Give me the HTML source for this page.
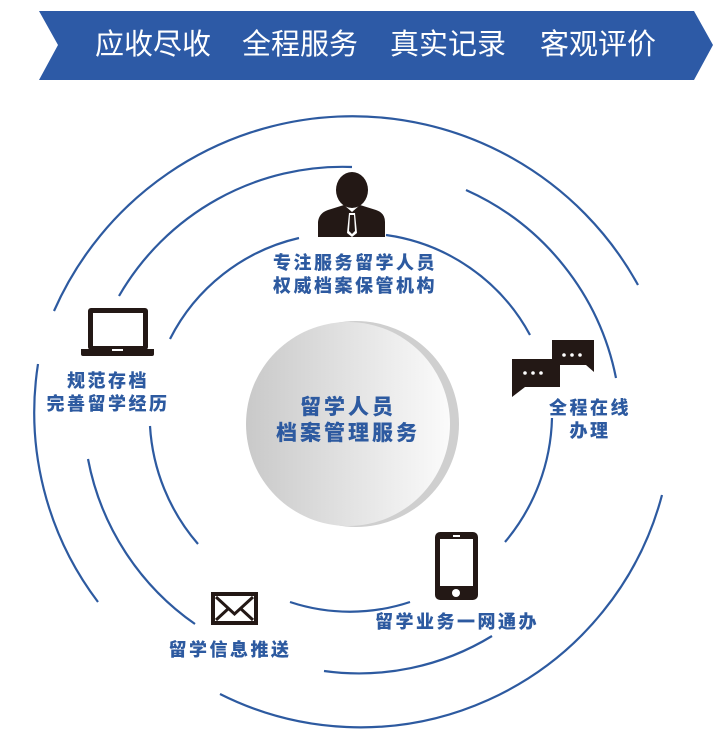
<!DOCTYPE html>
<html><head><meta charset="utf-8"><style>
html,body{margin:0;padding:0;background:#fff;}
body{width:720px;height:737px;position:relative;overflow:hidden;font-family:"Liberation Sans","Noto Sans CJK SC",sans-serif;}
.t{position:absolute;color:#2d5aa0;font-weight:900;font-size:18px;line-height:23px;text-align:center;white-space:nowrap;letter-spacing:2.5px;}
.b{position:absolute;top:28px;color:#fff;font-size:29px;line-height:34px;white-space:nowrap;}
</style></head><body>
<svg width="720" height="737" style="position:absolute;left:0;top:0">
<defs>
<linearGradient id="g" x1="0" x2="1" y1="0" y2="0"><stop offset="0" stop-color="#c9c9c9"/><stop offset="1" stop-color="#fbfbfb"/></linearGradient>
</defs>
<polygon points="39,11 694,11 713,45 694,80 39,80 58,45" fill="#2d5aa6"/>
<g fill="none" stroke="#2d5aa0" stroke-width="2.2">
<path d="M54,311 A326,326 0 0 1 638,285"/>
<path d="M119,296 A258,258 0 0 1 352,167"/>
<path d="M466,190 A262,262 0 0 1 616,378"/>
<path d="M170,339 A193,193 0 0 1 299,238"/>
<path d="M386,235 A194,194 0 0 1 530,335"/>
<path d="M38,364 A314,314 0 0 0 98,602"/>
<path d="M150,426 A198,198 0 0 0 198,544"/>
<path d="M88,459 A260,260 0 0 0 195,624"/>
<path d="M290,602 A190,190 0 0 0 410,602"/>
<path d="M324,671 A255,255 0 0 0 492,636"/>
<path d="M220,694 A312,312 0 0 0 662,495"/>
<path d="M552,418 A200,200 0 0 1 505,542"/>
</g>
<circle cx="356" cy="424" r="103" fill="#cfcfcf"/>
<circle cx="348" cy="424" r="102" fill="url(#g)"/>
<g fill="#231815">
<ellipse cx="352" cy="190" rx="16" ry="18"/>
<path d="M318,237 L318,222 Q319,213 328,210 L344,205 L352,212 L360,205 L376,210 Q385,213 385,222 L385,237 Z"/>
</g>
<path d="M349,213 L355,213 L357,233 L352,237 L347,233 Z" fill="#fff"/>
<path d="M350,215 L354,215 L355,231 L352,234 L349,231 Z" fill="#231815"/>
<rect x="88" y="308" width="60" height="42" rx="3" fill="#231815"/>
<rect x="93" y="313" width="50" height="33" fill="#fff"/>
<path d="M81,349 L154,349 L154,354 Q154,356 152,356 L83,356 Q81,356 81,354 Z" fill="#231815"/>
<rect x="112" y="349" width="11" height="2" fill="#fff"/>
<path d="M552,340 L594,340 L594,372 L586,365 L560,365 L560,360 L552,360 Z" fill="#231815"/>
<path d="M512,359 L560,359 L560,387 L525,387 L512,397 Z" fill="#231815"/>
<g fill="#fff"><circle cx="564" cy="355" r="1.8"/><circle cx="572" cy="355" r="1.8"/><circle cx="580" cy="355" r="1.8"/><circle cx="525" cy="373" r="1.8"/><circle cx="533" cy="373" r="1.8"/><circle cx="541" cy="373" r="1.8"/></g>
<rect x="435" y="532" width="43" height="68" rx="5" fill="#231815"/>
<rect x="440" y="539" width="33" height="47" fill="#fff"/>
<rect x="453" y="535" width="7" height="2" fill="#fff"/>
<circle cx="456" cy="593" r="4" fill="#fff"/>
<rect x="211" y="592" width="47" height="33" fill="#231815"/>
<rect x="215" y="596" width="39" height="25" fill="#fff"/>
<path d="M216,597 L234.5,614 L253,597 M216,620 L229,608 M253,620 L240,608" stroke="#231815" stroke-width="3" fill="none"/>
</svg>
<div class="b" style="left:95px">应收尽收</div>
<div class="b" style="left:242px">全程服务</div>
<div class="b" style="left:390px">真实记录</div>
<div class="b" style="left:540px">客观评价</div>
<div class="t" style="left:245px;width:220px;top:252px">专注服务留学人员<br>权威档案保管机构</div>
<div class="t" style="left:238px;width:220px;top:395px;font-size:21px;line-height:26px;letter-spacing:3px">留学人员<br>档案管理服务</div>
<div class="t" style="left:8px;width:200px;top:370px">规范存档<br>完善留学经历</div>
<div class="t" style="left:520px;width:140px;top:397px">全程在线<br>办理</div>
<div class="t" style="left:130px;width:200px;top:639px">留学信息推送</div>
<div class="t" style="left:347px;width:220px;top:611px">留学业务一网通办</div>
</body></html>
